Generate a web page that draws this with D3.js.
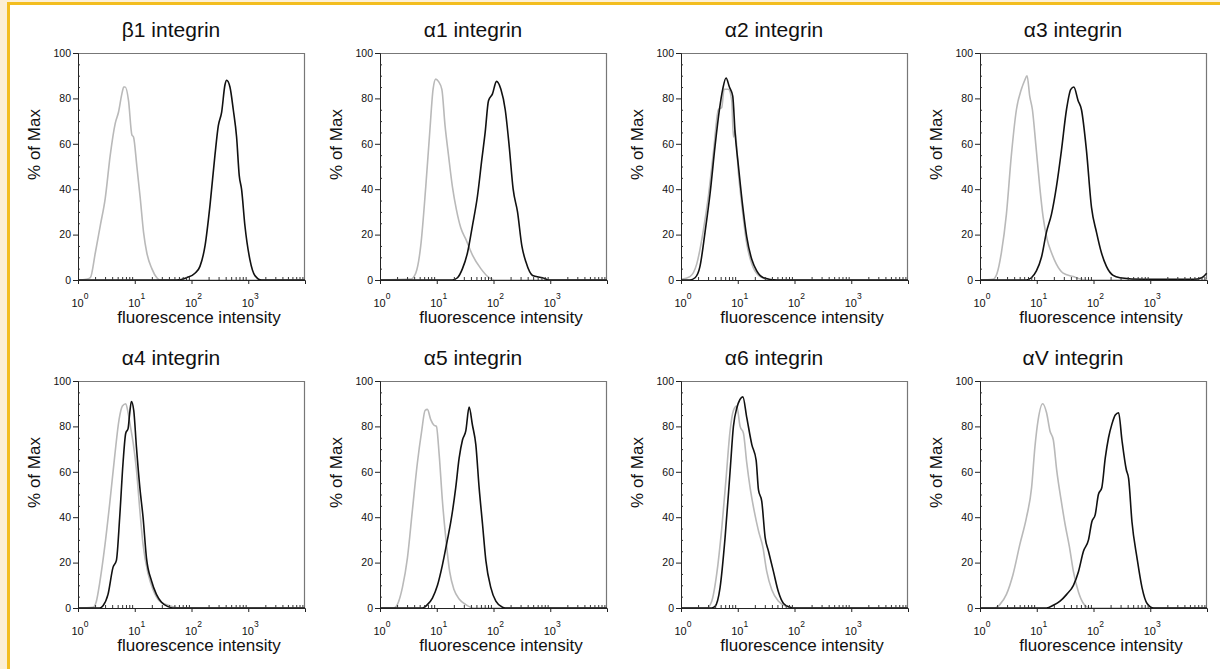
<!DOCTYPE html>
<html lang="en">
<head>
    <meta charset="UTF-8">
    <title>integrin flow histograms</title>
    <style>
        body { margin: 0; background: #fff; }
        svg { display: block; font-family: "Liberation Sans", Arial, sans-serif; }
    </style>
    <script src="https://d3js.org/d3.v7.min.js"></script>
</head>
<body>
    <script>
        // [fluorescence intensity, % of Max]
        const b1Control = [[1,0],[1.4,0.3],[1.65,1],[2.02,12],[2.47,24],[3.02,36],[3.7,55],[4.53,69],[5.18,74],[5.93,82],[6.4,85],[6.79,85],[7.77,79],[8.89,64],[9.51,63],[10.9,50],[12.5,36],[14.3,21],[16.3,12],[20,5],[24.5,1],[28,0],[10000,0]]
        const b1Stain = [[1,0],[55,0],[82,1],[115,3],[141,6],[173,15],[212,33],[259,55],[297,68],[340,74],[389,86],[416,88],[476,85],[545,75],[623,63],[694,46],[762,40],[873,24],[1069,9],[1309,2],[1713,0],[10000,0]]

        const a1Control = [[1,0],[3.48,0.4],[4.26,3],[5.22,15],[6.4,41],[7.52,65],[8.61,84],[9.6,88.5],[10.7,87.5],[12.3,84],[14,68],[16.1,55],[18.9,41],[22.2,31],[26.5,23],[32.5,18],[42.6,11],[59.8,5],[83.9,1],[103,0],[10000,0]]
        const a1Stain = [[1,0],[18.9,0],[23.2,1],[28.4,5],[34.8,12],[42.6,24],[52.2,37],[62.2,53],[71.3,65],[81.6,79],[95.9,82],[113,87.5],[135,84],[161,75],[189,59],[222,40],[265,30],[316,15],[372,8],[488,2],[732,1],[960,0],[10000,0]]

        const a2Control = [[1,0.3],[1.44,1.5],[1.89,7],[2.48,22],[3.04,37],[3.72,56],[4.56,75],[5.22,76],[5.74,84],[6.84,84],[7.84,79],[8.39,63],[8.97,66],[10.3,47],[11.8,33],[14.4,16],[17.7,7],[23.2,2],[32.5,0.3],[40,0],[10000,0]]
        const a2Stain = [[1,0],[1.44,0],[1.77,1],[2.16,6],[2.65,21],[3.25,38],[3.98,59],[4.75,75],[5.43,84],[6.22,89],[7.13,85],[8.16,81],[8.97,65],[10.3,50],[12.3,32],[14.4,19],[17.7,9],[21.6,4],[28.4,1],[48.8,0],[10000,0]]

        const a3Control = [[1,0],[1.69,0.3],[2,3],[2.38,12],[2.92,29],[3.57,55],[4.38,75],[5.36,84],[6.14,88],[6.75,90],[7.52,81],[8.39,75],[9.6,60],[11.3,41],[12.9,28],[15.2,18],[18.2,12],[22.2,7],[29.2,3],[43.8,1.5],[61.4,0.3],[70,0],[10000,0]]
        const a3Stain = [[1,0],[6.57,0],[8.05,1],[9.86,4],[12.1,10],[14.8,21],[18.2,29],[22.2,41],[27.2,57],[33.4,75],[39.8,84],[45,85],[53.6,79],[61.4,75],[75.2,57],[92.2,32],[113,21],[138,12],[169,6],[222,2],[292,1],[752,0.3],[5740,0.3],[8050,1],[9860,3]]

        const a4Control = [[1,0],[1.84,0.3],[2.11,3],[2.41,11],[2.96,27],[3.62,46],[4.44,67],[5.29,83],[6.06,89],[6.94,90],[7.63,86],[8.39,80],[9.35,73],[10.7,61],[12.3,43],[14,28],[17.2,15],[21.1,8],[27.6,3],[41.5,1],[62.2,0],[10000,0]]
        const a4Stain = [[1,0],[2.41,0],[2.76,1],[3.38,6],[4.15,18],[4.75,21],[5.43,40],[6.22,64],[6.94,77],[7.63,79],[8.16,86],[8.73,91],[9.6,87],[10.7,71],[12.3,53],[14,40],[16.1,22],[19.7,12],[24.1,6],[29.6,2.5],[38.7,0.6],[47.5,0],[10000,0]]

        const a5Control = [[1,0],[1.77,0],[2.02,1.5],[2.48,9],[3.04,22],[3.72,43],[4.56,64],[5.43,78],[6.22,87],[6.84,87.5],[7.84,83],[8.97,80.5],[9.86,80],[11,68],[12.6,47],[14.4,31],[16.9,16],[20.2,8],[24.8,4],[32.5,1.5],[45.6,0],[10000,0]]
        const a5Stain = [[1,0],[5.58,0],[6.84,1.5],[8.39,4.4],[10.3,10],[12.6,19],[15.4,30],[17.7,38],[21.6,53],[24.8,66],[28.4,74],[32.5,78],[37.2,88.5],[42.6,80.5],[48.8,72],[55.8,53],[64,37],[73.3,21],[89.7,9],[110,3],[144,0.3],[160,0],[10000,0]]

        const a6Control = [[1,0],[2.84,0],[3.48,3],[4.26,15],[5.22,35],[6.22,57],[7.32,78],[8.39,87],[9.6,89],[11,80],[12.6,77],[14.4,64],[16.5,53],[19.4,43],[23.2,34],[27.6,27],[32.5,16],[39.8,8],[52.2,3],[73.3,0.7],[95.9,0],[10000,0]]
        const a6Stain = [[1,0],[3.48,0],[3.98,0.7],[4.88,9],[5.98,31],[7.32,60],[8.39,80],[9.6,88],[12.3,93],[14.4,84],[17.7,72],[21.1,65],[23.2,52],[26.5,47],[30.4,31],[34.8,25],[42.6,16],[52.2,7],[64,2],[83.9,0.3],[95,0],[10000,0]]

        const aVControl = [[1,0],[1.82,0],[2.23,1.5],[2.92,6],[3.84,15],[5.04,28],[6.61,40],[8.11,53],[9.29,71],[10.6,83],[12.7,90],[14.9,86],[17.1,78],[19.6,74],[22.4,61],[27.5,46],[31.5,37],[37.6,27],[44.3,16],[54.3,7],[66.5,2],[87.3,0],[10000,0]]
        const aVStain = [[1,0],[14.9,0],[19.6,1.2],[25.7,3],[33.7,6],[44.3,10],[54.3,16],[66.5,25],[81.6,30],[93.5,38],[107,41],[122,50],[140,53],[161,66],[184,75],[211,81],[242,85],[277,86],[317,74],[378,61],[416,57],[476,38],[585,22],[716,9],[879,2],[1153,0],[10000,0]]

        const titles = ['β1 integrin', 'α1 integrin', 'α2 integrin', 'α3 integrin',
                        'α4 integrin', 'α5 integrin', 'α6 integrin', 'αV integrin']
        const controls = [b1Control, a1Control, a2Control, a3Control, a4Control, a5Control, a6Control, aVControl]
        const stains = [b1Stain, a1Stain, a2Stain, a3Stain, a4Stain, a5Stain, a6Stain, aVStain]

        const yTicks = [0, 20, 40, 60, 80, 100]
        const yMinor = d3.range(0, 101, 5).filter(v => v % 20 !== 0)
        const xTicks = [1, 10, 100, 1000]
        const xTickExp = ['0', '1', '2', '3']
        const xMinor = []
        for (let p = 0; p < 4; p++) for (let k = 2; k <= 9; k++) xMinor.push(k * Math.pow(10, p))

        const width = 1220, height = 669
        const colX = [78, 380, 681, 980]
        const rowY = [53, 381]
        const pw = 227, ph = 227

        const svg = d3.select('body').append('svg').attr('width', width).attr('height', height)

        // frame strip on the left and the top
        svg.append('rect').attr('x', 0).attr('y', 0).attr('width', width).attr('height', 2).attr('fill', '#fcf0d8')
        svg.append('rect').attr('x', 0).attr('y', 0).attr('width', 7).attr('height', height).attr('fill', '#fcefd4')
        svg.append('rect').attr('x', 7).attr('y', 2).attr('width', width - 7).attr('height', 3).attr('fill', '#f3bd1f')
        svg.append('rect').attr('x', 7).attr('y', 2).attr('width', 3).attr('height', height).attr('fill', '#f3bd1f')

        const x = d3.scaleLog().domain([1, 10000]).range([0, pw])
        const y = d3.scaleLinear().domain([0, 100]).range([ph, 0])
        const line = d3.line().x(d => x(d[0])).y(d => y(d[1])).curve(d3.curveMonotoneX)

        titles.forEach((t, i) => {
            const g = svg.append('g')
                .attr('transform', `translate(${colX[i % 4]}, ${rowY[Math.floor(i / 4)]})`)

            // top and right sides of the box
            g.append('path')
                .attr('d', `M0,0.5H${pw - 0.5}V${ph}`)
                .attr('fill', 'none').attr('stroke', '#777').attr('stroke-width', 1.2)

            g.append('path').datum(controls[i]).attr('d', line)
                .attr('fill', 'none').attr('stroke', '#b9b9b9').attr('stroke-width', 1.6)
            g.append('path').datum(stains[i]).attr('d', line)
                .attr('fill', 'none').attr('stroke', '#111').attr('stroke-width', 1.6)

            const ya = g.append('g').call(d3.axisLeft(y).tickValues(yTicks).tickSize(5).tickPadding(2))
            ya.selectAll('text').attr('font-size', 10.5).attr('fill', '#111').attr('font-family', 'Liberation Sans, Arial')
            ya.selectAll('line, path').attr('stroke', '#222')
            const ym = g.append('g').call(d3.axisRight(y).tickValues(yMinor).tickSize(2).tickFormat(''))
            ym.select('.domain').remove()
            ym.selectAll('line').attr('stroke', '#333')

            const xa = g.append('g').attr('transform', `translate(0, ${ph})`)
                .call(d3.axisBottom(x).tickValues(xTicks).tickSize(4).tickFormat(''))
            xa.selectAll('line, path').attr('stroke', '#222')
            const xm = g.append('g').attr('transform', `translate(0, ${ph})`)
                .call(d3.axisTop(x).tickValues(xMinor).tickSize(3).tickFormat(''))
            xm.select('.domain').remove()
            xm.selectAll('line').attr('stroke', '#333')

            xTicks.forEach((v, k) => {
                const lab = g.append('text').attr('x', x(v) - 6.5).attr('y', ph + 27)
                    .attr('font-size', 11).attr('fill', '#111')
                lab.append('tspan').text('10')
                lab.append('tspan').attr('dy', -8).attr('font-size', 8.5).text(xTickExp[k])
            })

            g.append('text').attr('x', 93).attr('y', -16).attr('text-anchor', 'middle')
                .attr('font-size', 21).attr('fill', '#111').text(t)
            g.append('text').attr('x', 121).attr('y', ph + 43).attr('text-anchor', 'middle')
                .attr('font-size', 17).attr('fill', '#111').text('fluorescence intensity')
            g.append('text').attr('transform', `translate(-38, ${ph / 2 - 22}) rotate(-90)`)
                .attr('text-anchor', 'middle').attr('font-size', 17).attr('fill', '#111').text('% of Max')
        })
    </script>
</body>
</html>
